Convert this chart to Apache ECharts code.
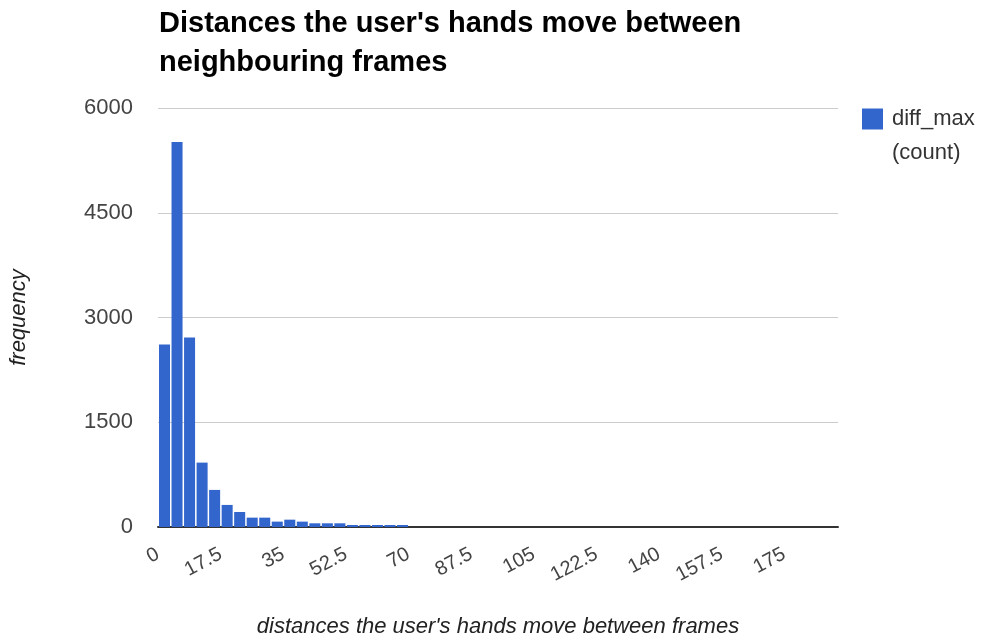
<!DOCTYPE html>
<html>
<head>
<meta charset="utf-8">
<script src="https://cdn.jsdelivr.net/npm/echarts@6/dist/echarts.min.js"></script>
<style>
html,body{margin:0;padding:0;background:#fff;}
#chart{width:982px;height:637px;}
</style>
</head>
<body>
<div id="chart"></div>
<script>
const titleText = "Distances the user's hands move between\nneighbouring frames";
const seriesName = "diff_max";
const legendSub = "(count)";
const xAxisTitle = "distances the user's hands move between frames";
const yAxisTitle = "frequency";
const binStarts = [0, 3.5, 7, 10.5, 14, 17.5, 21, 24.5, 28, 31.5, 35, 38.5, 42, 45.5, 49, 52.5, 56, 59.5, 63, 66.5];
const binEnds = [3.5, 7, 10.5, 14, 17.5, 21, 24.5, 28, 31.5, 35, 38.5, 42, 45.5, 49, 52.5, 56, 59.5, 63, 66.5, 70];
const counts = [2615, 5512, 2715, 922, 531, 316, 215, 134, 134, 77, 105, 77, 53, 53, 53, 29, 29, 29, 29, 29];
const xMin = 0, xMax = 190, xInterval = 17.5;
const yMin = 0, yMax = 6000, yInterval = 1500;

const data = binStarts.map((s, i) => [s, binEnds[i], counts[i]]);

const chart = echarts.init(document.getElementById('chart'), null, {renderer: 'canvas'});
const font = "'Liberation Sans', Arial, sans-serif";
chart.setOption({
  animation: false,
  backgroundColor: '#ffffff',
  title: {
    text: titleText,
    left: 154,
    top: -1,
    textStyle: {fontFamily: font, fontWeight: 'bold', fontSize: 29, lineHeight: 39, color: '#000'}
  },
  legend: {
    data: [seriesName],
    left: 857,
    top: 103,
    itemWidth: 21,
    itemHeight: 21,
    icon: 'rect',
    textStyle: {fontFamily: font, fontSize: 22, color: '#333', padding: [0, 0, 0, 4]}
  },
  graphic: [{
    type: 'text',
    left: 892,
    top: 142,
    style: {text: legendSub, font: "22px 'Liberation Sans', Arial, sans-serif", fill: '#333'}
  }],
  grid: {left: 158, right: 144, top: 108, bottom: 110, containLabel: false, outerBoundsMode: 'none'},
  xAxis: {
    type: 'value',
    min: xMin, max: xMax, interval: xInterval,
    name: xAxisTitle,
    nameLocation: 'middle',
    nameGap: 89,
    nameTextStyle: {fontFamily: font, fontSize: 22, fontStyle: 'italic', color: '#222'},
    axisLine: {show: true, onZero: false, lineStyle: {color: '#333', width: 2}},
    axisTick: {show: false},
    splitLine: {show: false},
    axisLabel: {rotate: 28, margin: 26, fontFamily: font, fontSize: 20, color: '#444', showMaxLabel: false}
  },
  yAxis: {
    type: 'value',
    min: yMin, max: yMax, interval: yInterval,
    name: yAxisTitle,
    nameLocation: 'middle',
    nameGap: 128,
    nameRotate: 90,
    nameTextStyle: {fontFamily: font, fontSize: 22, fontStyle: 'italic', color: '#222'},
    axisLine: {show: false},
    axisTick: {show: false},
    splitLine: {lineStyle: {color: '#cccccc', width: 1}},
    axisLabel: {margin: 25, fontFamily: font, fontSize: 22, color: '#444', formatter: v => String(v)}
  },
  series: [{
    name: seriesName,
    type: 'custom',
    itemStyle: {color: '#3366cc'},
    encode: {x: [0, 1], y: 2},
    data: data,
    renderItem: function (params, api) {
      const p0 = api.coord([api.value(0), api.value(2)]);
      const p1 = api.coord([api.value(1), 0]);
      return {
        type: 'rect',
        shape: {x: p0[0] + 1, y: p0[1], width: p1[0] - p0[0] - 1.5, height: p1[1] - p0[1]},
        style: {fill: '#3366cc'}
      };
    }
  }]
});
</script>
</body>
</html>
